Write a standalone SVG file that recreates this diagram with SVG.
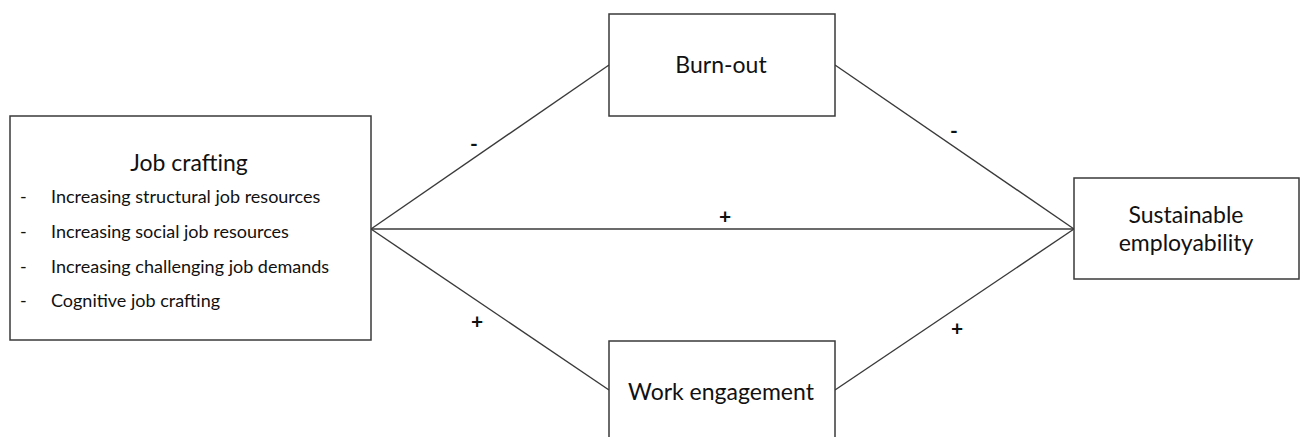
<svg xmlns="http://www.w3.org/2000/svg" width="1303" height="437" viewBox="0 0 1303 437">
<style>
.box{fill:#fff;stroke:#3a3a3a;stroke-width:1.5}
.ln{stroke:#3a3a3a;stroke-width:1.4;fill:none}
text{font-family:Lato,"Open Sans","Liberation Sans",sans-serif;fill:#111}
.t{font-size:23px;text-anchor:middle}
.i{font-size:18px}
.s{font-size:21px;font-weight:bold;text-anchor:middle;dominant-baseline:central}
</style>
<rect width="1303" height="437" fill="#fff"/>
<g id="connectors">
<line class="ln" x1="371" y1="229" x2="609" y2="65"/>
<line class="ln" x1="371" y1="229" x2="609" y2="390"/>
<line class="ln" x1="371" y1="229" x2="1074" y2="229"/>
<line class="ln" x1="835" y1="65" x2="1074" y2="229"/>
<line class="ln" x1="835" y1="390" x2="1074" y2="229"/>
<text class="s" x="474" y="142">-</text>
<text class="s" x="725" y="215">+</text>
<text class="s" x="954" y="129">-</text>
<text class="s" x="477" y="320">+</text>
<text class="s" x="957" y="327">+</text>
</g>
<g id="job-crafting">
<rect class="box" x="10" y="116" width="361" height="224"/>
<text class="t" x="189" y="171">Job crafting</text>
<g class="i">
<text x="20" y="203">-</text><text x="51" y="203">Increasing structural job resources</text>
<text x="20" y="238">-</text><text x="51" y="238">Increasing social job resources</text>
<text x="20" y="273">-</text><text x="51" y="273">Increasing challenging job demands</text>
<text x="20" y="307">-</text><text x="51" y="307">Cognitive job crafting</text>
</g>
</g>
<g id="burn-out">
<rect class="box" x="609" y="14" width="226" height="102"/>
<text class="t" x="721" y="73">Burn-out</text>
</g>
<g id="work-engagement">
<rect class="box" x="609" y="341" width="226" height="110"/>
<text class="t" x="721" y="400">Work engagement</text>
</g>
<g id="sustainable-employability">
<rect class="box" x="1074" y="178" width="225" height="101"/>
<text class="t" x="1186" y="223">Sustainable</text>
<text class="t" x="1186" y="251">employability</text>
</g>
</svg>
